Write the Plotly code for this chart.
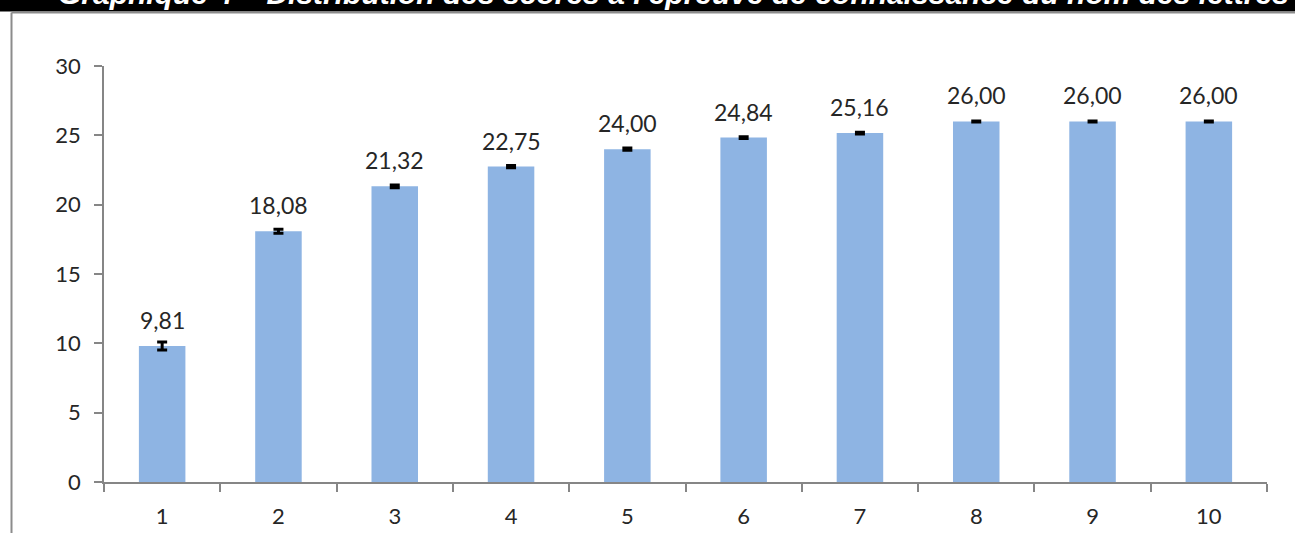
import plotly.graph_objects as go

# Scores by session
categories = ["1", "2", "3", "4", "5", "6", "7", "8", "9", "10"]
means = [9.81, 18.08, 21.32, 22.75, 24.00, 24.84, 25.16, 26.00, 26.00, 26.00]
errors = [0.29, 0.14, 0.10, 0.08, 0.08, 0.06, 0.06, 0.03, 0.03, 0.03]
y_ticks = [0, 5, 10, 15, 20, 25, 30]
title_text = "Graphique 4 – Distribution des scores à l'épreuve de connaissance du nom des lettres"

W, H = 1295, 533
px_x = lambda p: p / W
px_y = lambda p: 1 - p / H

fig = go.Figure()
fig.add_trace(go.Bar(
    x=categories, y=means,
    marker=dict(color="#8EB4E3", line=dict(width=0)),
    width=0.4,
    error_y=dict(type="data", array=errors, visible=True,
                 color="black", thickness=3, width=5),
    hoverinfo="skip",
))

# value labels above bars (category index positions)
for i, v in enumerate(means):
    fig.add_annotation(x=i, y=v, xref="x", yref="y",
                       text=f"{v:.2f}".replace(".", ","),
                       showarrow=False, yanchor="bottom", yshift=10,
                       font=dict(family="Lato", size=23, color="#262626"))

font_ticks = dict(family="Lato", size=22, color="#262626")
fig.update_layout(
    width=W, height=H,
    margin=dict(l=0, r=0, t=0, b=0, autoexpand=False),
    paper_bgcolor="white", plot_bgcolor="white",
    showlegend=False,
    xaxis=dict(domain=[px_x(104), px_x(1267)], type="category",
               range=[-0.5, 9.5],
               tickson="boundaries", ticks="outside", ticklen=8,
               tickcolor="#868686", tickwidth=1.5,
               showline=True, linecolor="#868686", linewidth=1.5,
               showgrid=False, tickfont=font_ticks, automargin=False,
               ticklabelstandoff=14),
    yaxis=dict(domain=[px_y(482), px_y(66)], range=[0, 30],
               tickvals=y_ticks, ticks="outside", ticklen=8,
               tickcolor="#868686", tickwidth=1.5,
               showline=True, linecolor="#868686", linewidth=1.5,
               showgrid=False, zeroline=False, tickfont=font_ticks,
               automargin=False, ticklabelstandoff=9),
)

# black heading band and chart frame
fig.add_shape(type="rect", xref="paper", yref="paper",
              x0=0, x1=1, y0=px_y(11.5), y1=1.01,
              fillcolor="black", line=dict(width=0), layer="above")
fig.add_shape(type="line", xref="paper", yref="paper",
              x0=px_x(11.5), x1=1.01, y0=px_y(12.5), y1=px_y(12.5),
              line=dict(color="#8c8c8c", width=2))
fig.add_shape(type="line", xref="paper", yref="paper",
              x0=px_x(11.5), x1=px_x(11.5), y0=px_y(12.5), y1=-0.01,
              line=dict(color="#8c8c8c", width=2))
fig.add_annotation(x=px_x(673), y=px_y(-6), xref="paper", yref="paper",
                   text=f"<b><i>{title_text}</i></b>", showarrow=False,
                   xanchor="center", yanchor="middle",
                   font=dict(family="Liberation Sans", size=30, color="white"))

fig.write_html("out.html")
